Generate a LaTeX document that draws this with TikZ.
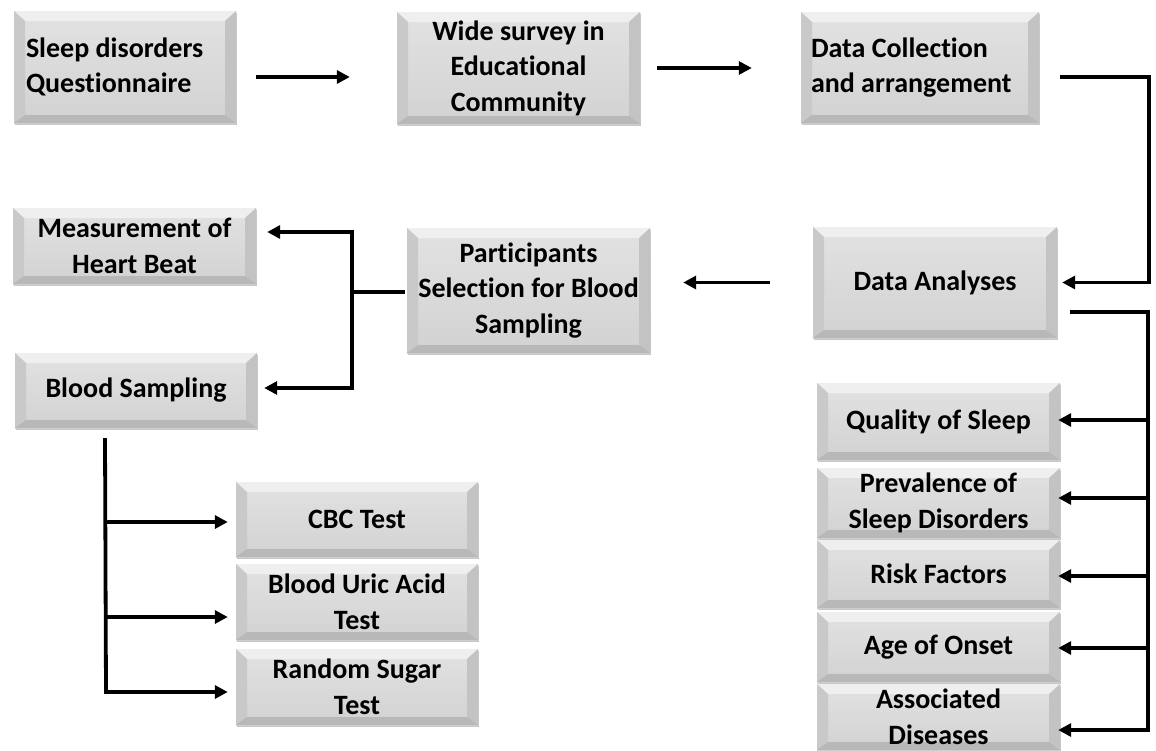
\documentclass[tikz,border=0pt]{standalone}
\usepackage{fontspec}
\setmainfont{Carlito}[Ligatures=NoCommon]
\usetikzlibrary{arrows.meta,calc,shadows}
\definecolor{facetop}{HTML}{E2E2E2}
\definecolor{facebot}{HTML}{D2D2D2}
\definecolor{bvtop}{HTML}{EFEFEF}
\definecolor{bvleft}{HTML}{C9C9C9}
\definecolor{bvright}{HTML}{C3C3C3}
\definecolor{bvbot}{HTML}{B8B8B8}
\begin{document}
\begin{tikzpicture}[x=1pt,y=-1pt,
  bx/.style={inner sep=0pt, align=center, text=black,
    font=\bfseries\fontsize{28}{35.5}\selectfont,
    top color=facetop, bottom color=facebot,
    drop shadow={shadow xshift=1.2pt, shadow yshift=-2.2pt, fill=black, opacity=0.22},
    path picture={
      \fill[bvtop] (path picture bounding box.north west) -- (path picture bounding box.north east)
        -- ($(path picture bounding box.north east)+(-11pt,-10pt)$) -- ($(path picture bounding box.north west)+(11pt,-10pt)$) -- cycle;
      \fill[bvleft] (path picture bounding box.north west) -- ($(path picture bounding box.north west)+(11pt,-10pt)$)
        -- ($(path picture bounding box.south west)+(11pt,8pt)$) -- (path picture bounding box.south west) -- cycle;
      \fill[bvright] (path picture bounding box.north east) -- ($(path picture bounding box.north east)+(-11pt,-10pt)$)
        -- ($(path picture bounding box.south east)+(-11pt,8pt)$) -- (path picture bounding box.south east) -- cycle;
      \fill[bvbot] (path picture bounding box.south west) -- ($(path picture bounding box.south west)+(11pt,8pt)$)
        -- ($(path picture bounding box.south east)+(-11pt,8pt)$) -- (path picture bounding box.south east) -- cycle;
    }},
  ln/.style={line width=3.8pt, black},
  arr/.style={ln, -{Triangle[length=13pt,width=13pt]}}
]
\useasboundingbox[fill=white] (0,0) rectangle (1156,750);

% top row
\node[bx, minimum width=222pt, minimum height=112pt, text width=198pt, align=flush left] (A) at (125,67) {Sleep disorders\\Questionnaire};
\node[bx, minimum width=243pt, minimum height=112pt] (B) at (518.5,68) {Wide survey in\\Educational\\Community};
\node[bx, minimum width=238pt, minimum height=111pt, text width=218pt, align=flush left] (C) at (920,67.5) {Data Collection\\and arrangement};

% middle row
\node[bx, minimum width=244pt, minimum height=111pt] (DA) at (935,282.5) {Data Analyses};
\node[bx, minimum width=243pt, minimum height=125pt] (P) at (528.5,290.5) {Participants\\Selection for Blood\\Sampling};
\node[bx, minimum width=243pt, minimum height=76pt] (M) at (134.5,246) {Measurement of\\Heart Beat};
\node[bx, minimum width=242pt, minimum height=75pt] (BS) at (136,390.5) {Blood Sampling};

% tests
\node[bx, minimum width=242pt, minimum height=75pt] (CBC) at (357,519.5) {CBC Test};
\node[bx, minimum width=242pt, minimum height=76pt] (UA) at (357,602) {Blood Uric Acid\\Test};
\node[bx, minimum width=242pt, minimum height=76pt] (RS) at (357,687) {Random Sugar\\Test};

% right column
\node[bx, minimum width=243pt, minimum height=77pt] (Q) at (938.5,421.5) {Quality of Sleep};
\node[bx, minimum width=243pt, minimum height=70pt] (PR) at (938.5,503) {Prevalence of\\Sleep Disorders};
\node[bx, minimum width=243pt, minimum height=68pt] (RF) at (938.5,574) {Risk Factors};
\node[bx, minimum width=243pt, minimum height=70pt] (AO) at (938.5,647) {Age of Onset};
\node[bx, minimum width=243pt, minimum height=66pt] (AD) at (938.5,717) {Associated\\Diseases};

% top arrows
\draw[arr, shorten <=20pt, shorten >=47pt] ([yshift=-10pt]A.east) -- ([yshift=-10pt]A.east -| B.west);
\draw[arr, shorten <=17pt, shorten >=49pt] (B.east) -- (B.east -| C.west);

% C -> DA
\coordinate (c1) at (1149,77);
\draw[arr] ([yshift=-9.5pt,xshift=21pt]C.east) -- (c1) |- ([xshift=5pt]DA.east);

% DA -> P
\draw[arr, shorten <=43pt, shorten >=33pt] (DA.west) -- (DA.west -| P.east);

% DA -> right list
\coordinate (rt) at (1148,312);
\coordinate (rb) at (1148,730);
\draw[ln] ([yshift=-29.5pt,xshift=13pt]DA.east) -- (rt) -- ([yshift=-1.9pt]rb);
\draw[arr, shorten >=-2pt] ([yshift=1.5pt]rt |- Q.east) -- ([yshift=1.5pt]Q.east);
\draw[arr, shorten >=-2pt] ([yshift=5pt]rt |- PR.east) -- ([yshift=5pt]PR.east);
\draw[arr, shorten >=-2pt] ([yshift=-2pt]rt |- RF.east) -- ([yshift=-2pt]RF.east);
\draw[arr, shorten >=-2pt] ([yshift=-1pt]rt |- AO.east) -- ([yshift=-1pt]AO.east);
\draw[arr, shorten >=-2pt] (rb) -- (rb -| AD.east);

% P -> M, BS
\coordinate (lt) at (352,232);
\coordinate (lm) at (352,292);
\coordinate (lb) at (352,388);
\draw[ln] ([yshift=-1.5pt,xshift=-2pt]P.west) -- (lm);
\draw[ln] ([yshift=1.9pt]lt) -- ([yshift=-1.9pt]lb);
\draw[arr, shorten >=11pt] (lt) -- (lt -| M.east);
\draw[arr, shorten >=7pt] (lb) -- (lb -| BS.east);

% BS -> tests
\coordinate (bt) at (105,438);
\coordinate (bb) at (106,692);
\draw[ln] (bt) -- ([yshift=-1.9pt]bb);
\draw[arr, shorten >=8pt] ([yshift=-2.5pt]bb |- CBC.west) -- ([yshift=-2.5pt]CBC.west);
\draw[arr, shorten >=8pt] ([yshift=-15pt]bb |- UA.west) -- ([yshift=-15pt]UA.west);
\draw[arr, shorten >=8pt] (bb) -- (bb -| RS.west);
\end{tikzpicture}
\end{document}
